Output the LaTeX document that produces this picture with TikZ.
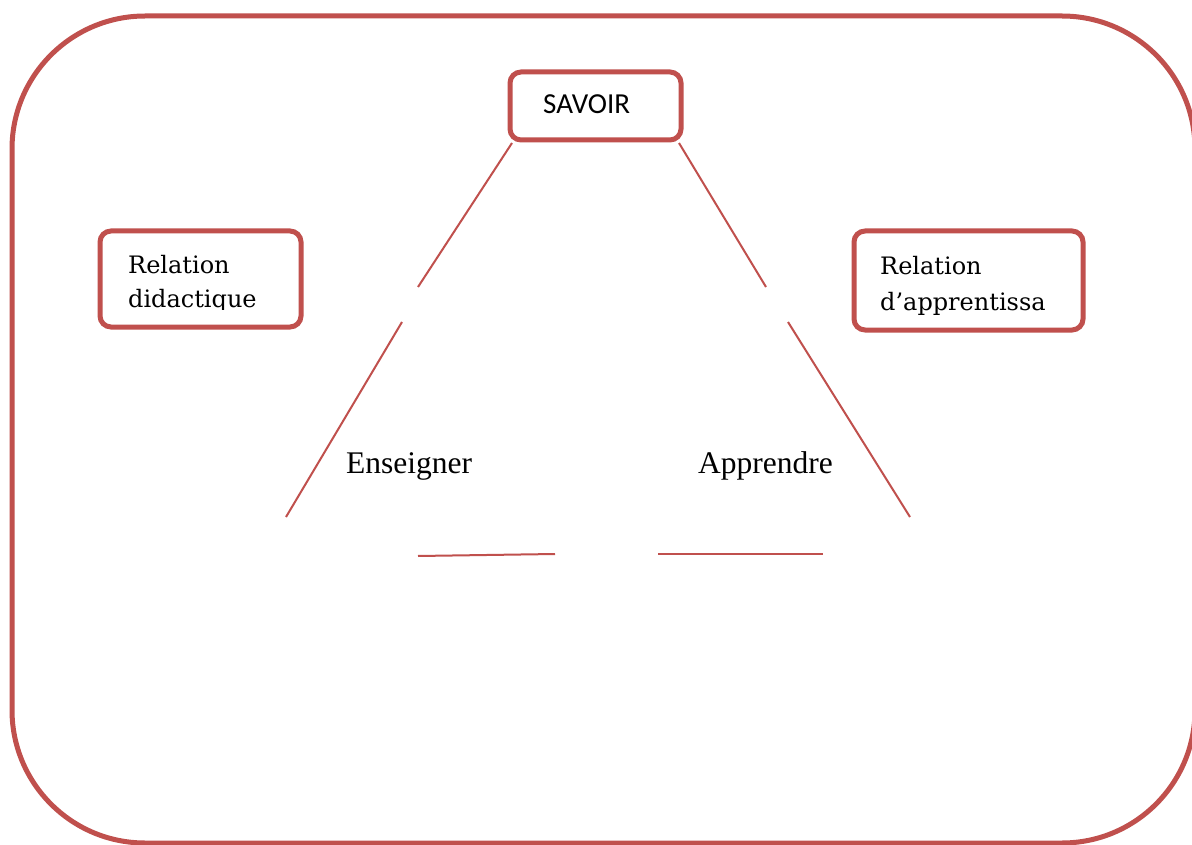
\documentclass[tikz,border=0pt]{standalone}
\usepackage{fontspec}
\setmainfont{Liberation Serif}
\newfontfamily\calibrifont{Carlito}
\newfontfamily\slabfont{DejaVu Serif}
\definecolor{accred}{HTML}{C0504D}
\begin{document}
\begin{tikzpicture}[x=1pt,y=-1pt,
  frame/.style={draw=accred,line width=5pt,rounded corners=133pt},
  redbox/.style={draw=accred,line width=5pt,rounded corners=11pt,fill=white,inner sep=0pt},
  edge/.style={draw=accred,line width=2pt},
  lbl/.style={inner sep=0pt,anchor=base west},
  savoirtxt/.style={lbl,font=\calibrifont\fontsize{29}{34}\selectfont},
  reltxt/.style={lbl,font=\slabfont\fontsize{24}{28}\selectfont},
  verbtxt/.style={lbl,font=\fontsize{31.5}{36}\selectfont}]
\useasboundingbox (0,0) rectangle (1192,845);
\clip (0,0) rectangle (1192,845);
\fill[white] (0,0) rectangle (1192,845);
\draw[frame] (12,16) rectangle (1195,843);
% boxes
\node[redbox,minimum width=171pt,minimum height=68pt] (savoir) at (595.5,106) {};
\node[redbox,minimum width=201pt,minimum height=96pt] (reldid) at (200.5,279) {};
\node[redbox,minimum width=229pt,minimum height=99pt] (relapp) at (968.5,280.5) {};
\node[savoirtxt] (savoirlbl) at (543,114) {SAVOIR};
\node[reltxt] (reldidA) at (128,273) {Relation};
\begin{scope}
\clip (100,280) rectangle (301,309);
\node[reltxt] (reldidB) at (128,307) {didactique};
\end{scope}
\node[reltxt] (relappA) at (880,275) {Relation};
\node[reltxt] (relappB) at (880,310) {d’apprentissa};
\node[verbtxt] (ens) at (346,473) {Enseigner};
\node[verbtxt] (app) at (698,473) {Apprendre};
% broken triangle
\coordinate (l1a) at (512,143);
\coordinate (l1b) at (418,287);
\coordinate (l2a) at (402,322);
\coordinate (l2b) at (286,517);
\coordinate (r1a) at (679,143);
\coordinate (r1b) at (766,287);
\coordinate (r2a) at (788,322);
\coordinate (r2b) at (910,517);
\coordinate (b1a) at (418,556);
\coordinate (b1b) at (555,554);
\coordinate (b2a) at (658,554);
\coordinate (b2b) at (823,554);
\draw[edge] (l1a) -- (l1b);
\draw[edge] (l2a) -- (l2b);
\draw[edge] (r1a) -- (r1b);
\draw[edge] (r2a) -- (r2b);
\draw[edge] (b1a) -- (b1b);
\draw[edge] (b2a) -- (b2b);
\end{tikzpicture}
\end{document}
